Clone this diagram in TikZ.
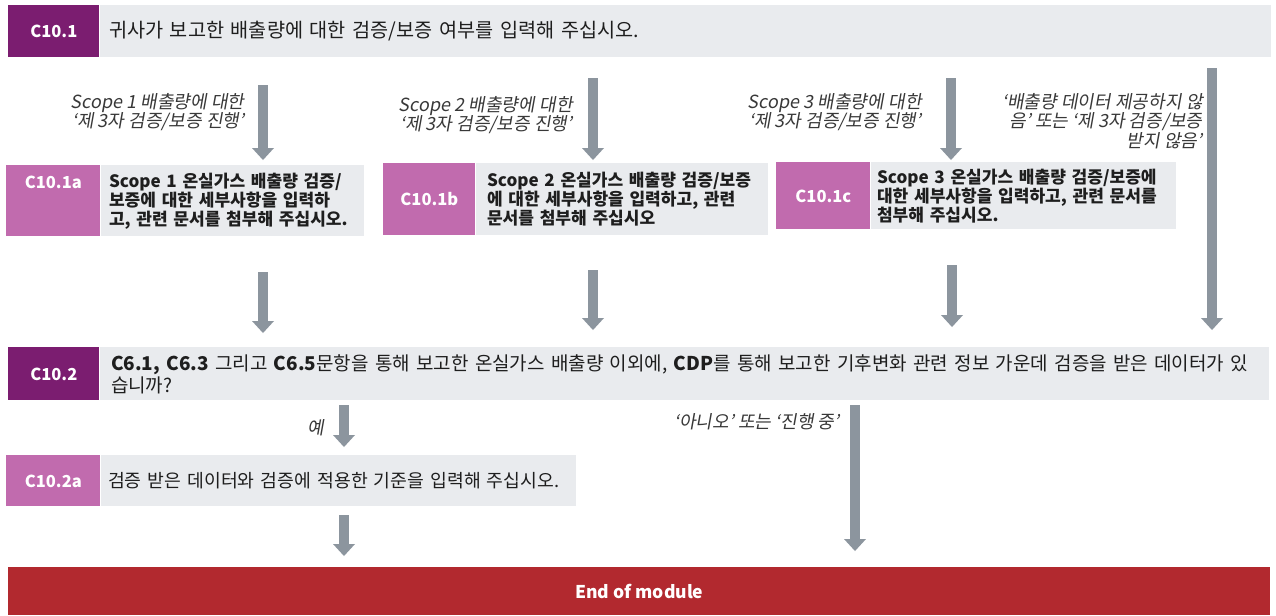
\documentclass[tikz,border=0pt]{standalone}
\usepackage{fontspec}
\setmainfont{Noto Sans CJK KR}
\newfontfamily\slantfont{Noto Sans CJK KR}[FakeSlant=0.18]
\usetikzlibrary{positioning,arrows.meta}

\definecolor{cdpdark}{HTML}{7B1D70}
\definecolor{cdppink}{HTML}{C16BAE}
\definecolor{cdpgrey}{HTML}{E9EBEE}
\definecolor{cdparrow}{HTML}{8C959E}
\definecolor{cdpred}{HTML}{B2292F}
\definecolor{cdptext}{HTML}{1E1E1E}
\definecolor{cdpnotecol}{HTML}{383838}

\newcommand\cdpid{\bfseries\fontsize{9.4}{11}\selectfont}
\newcommand\cdpq{\fontsize{11.2}{12.5}\selectfont}
\newcommand\cdpqq{\fontsize{10.8}{12.5}\selectfont}
\newcommand\cdpqa{\fontsize{10.4}{12.5}\selectfont}
\newcommand\cdpsub{\bfseries\fontsize{9.7}{10.8}\selectfont}
\newcommand\cdpnote{\slantfont\fontsize{10.3}{11}\selectfont}
\newcommand\cdpend{\bfseries\fontsize{10}{12}\selectfont}

\begin{document}
\begin{tikzpicture}[x=0.2mm, y=-0.2mm,
  idbox/.style={fill=#1, text=white, font=\cdpid, inner sep=0pt, anchor=north west},
  qbox/.style={fill=cdpgrey, text=cdptext, align=left, inner ysep=0pt, right=0pt of #1},
  note/.style={font=\cdpnote, text=cdpnotecol, align=right, anchor=east, inner sep=0pt},
  flow/.style={draw=cdparrow, line width=2mm, -{Triangle[width=4.4mm, length=2.4mm, line width=0pt]}}]
\path[fill=white, use as bounding box] (0,0) rectangle (1276,615);

% C10.1
\node[idbox=cdpdark, minimum width=18.2mm, minimum height=10.4mm] (q1) at (8,5) {C10.1};
\node[qbox=q1, minimum height=10.4mm, text width=230.6mm, inner xsep=1.8mm, font=\cdpq] (q1t)
  {귀사가 보고한 배출량에 대한 검증/보증 여부를 입력해 주십시오.};

% scope boxes
\node[idbox=cdppink, minimum width=18.8mm, minimum height=14.2mm,
  label={[font=\cdpid, text=white, anchor=north, inner sep=0pt, yshift=-2.2mm]north:C10.1a}] (q1a) at (6,165) {};
\node[qbox=q1a, minimum height=14.2mm, text width=49.4mm, inner xsep=1.6mm, font=\cdpsub] (q1at)
  {Scope 1 온실가스 배출량 검증/\\보증에 대한 세부사항을 입력하\\고, 관련 문서를 첨부해 주십시오.};
\node[idbox=cdppink, minimum width=18.4mm, minimum height=14.4mm] (q1b) at (383,163) {C10.1b};
\node[qbox=q1b, minimum height=14.4mm, text width=54mm, inner xsep=2.2mm, font=\cdpsub] (q1bt)
  {Scope 2 온실가스 배출량 검증/보증\\에 대한 세부사항을 입력하고, 관련\\문서를 첨부해 주십시오};
\node[idbox=cdppink, minimum width=18.8mm, minimum height=13.4mm] (q1c) at (776,162) {C10.1c};
\node[qbox=q1c, minimum height=13.4mm, text width=58.6mm, inner xsep=1.2mm, font=\cdpsub] (q1ct)
  {Scope 3 온실가스 배출량 검증/보증에\\대한 세부사항을 입력하고, 관련 문서를\\첨부해 주십시오.};

% C10.2
\node[idbox=cdpdark, minimum width=18.2mm, minimum height=10.6mm] (q2) at (8,347) {C10.2};
\node[qbox=q2, minimum height=10.6mm, text width=229.4mm, inner xsep=2.2mm, font=\cdpqq] (q2t)
  {\textbf{C6.1, C6.3} 그리고 \textbf{C6.5}문항을 통해 보고한 온실가스 배출량 이외에, \textbf{CDP}를 통해 보고한 기후변화 관련 정보 가운데 검증을 받은 데이터가 있\\습니까?};
\node[idbox=cdppink, minimum width=18.8mm, minimum height=10.2mm] (q2a) at (6,455) {C10.2a};
\node[qbox=q2a, minimum height=10.2mm, text width=92.2mm, inner xsep=1.4mm, font=\cdpqa] (q2at)
  {검증 받은 데이터와 검증에 적용한 기준을 입력해 주십시오.};

\node[fill=cdpred, text=white, font=\cdpend, minimum width=252.4mm, minimum height=9.6mm,
  inner sep=0pt, anchor=north west] (end) at (8,567) {End of module};

% notes
\node[note] (n1) at (245,112) {Scope 1 배출량에 대한\\‘제 3자 검증/보증 진행’};
\node[note] (n2) at (573,115) {Scope 2 배출량에 대한\\‘제 3자 검증/보증 진행’};
\node[note] (n3) at (922,112) {Scope 3 배출량에 대한\\‘제 3자 검증/보증 진행’};
\node[note] (n4) at (1203,121) {‘배출량 데이터 제공하지 않\\음’ 또는 ‘제 3자 검증/보증\\받지 않음’};
\node[note] (n5) at (325,428) {예};
\node[note] (n6) at (840,422) {‘아니오’ 또는 ‘진행 중’};

% arrows
\coordinate (a1) at (263,85);
\coordinate (a2) at (593,78);
\coordinate (a3) at (951,78);
\coordinate (a4) at (1212,68);
\coordinate (b1) at (263,272);
\coordinate (b2) at (593,270);
\coordinate (b3) at (952,265);
\coordinate (c1) at (344,405);
\coordinate (c2) at (855,405);
\coordinate (d1) at (344,515);
\draw[flow, shorten >=1mm] (a1) -- (a1 |- q1at.north);
\draw[flow, shorten >=0.6mm] (a2) -- (a2 |- q1bt.north);
\draw[flow, shorten >=0.4mm] (a3) -- (a3 |- q1ct.north);
\draw[flow, shorten >=3.4mm] (a4) -- (a4 |- q2t.north);
\draw[flow, shorten >=2.8mm] (b1) -- (b1 |- q2t.north);
\draw[flow, shorten >=3.4mm] (b2) -- (b2 |- q2t.north);
\draw[flow, shorten >=4mm] (b3) -- (b3 |- q2t.north);
\draw[flow, shorten >=1.6mm] (c1) -- (c1 |- q2at.north);
\draw[flow, shorten >=3.2mm] (c2) -- (c2 |- end.north);
\draw[flow, shorten >=2.2mm] (d1) -- (d1 |- end.north);
\end{tikzpicture}
\end{document}
